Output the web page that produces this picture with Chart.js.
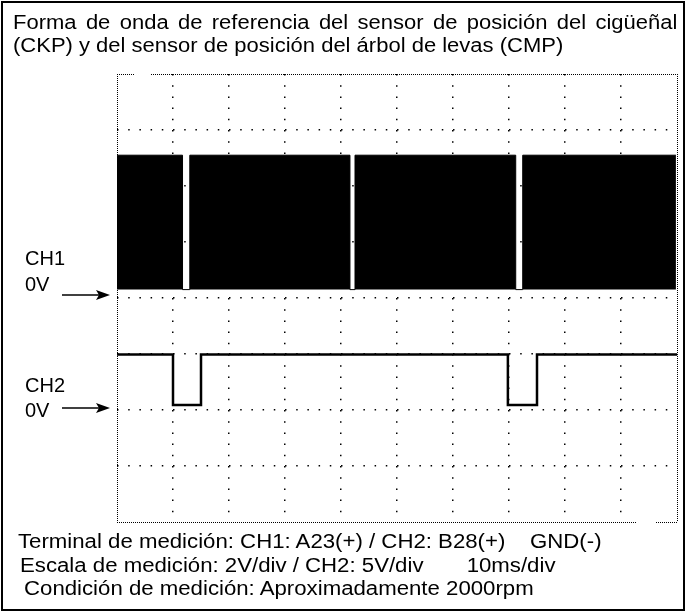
<!DOCTYPE html>
<html>
<head>
<meta charset="utf-8">
<script src="https://cdn.jsdelivr.net/npm/chart.js@4.4.0/dist/chart.umd.min.js"></script>
<style>
  html, body { margin: 0; padding: 0; background: #fff; }
  #wrap { position: relative; width: 687px; height: 613px; overflow: hidden; font-family: "Liberation Sans", Arial, sans-serif; color: #000; }
  #frame { position: absolute; left: 1px; top: 1px; width: 684px; height: 610px; border: 2px solid #000; box-sizing: border-box; }
  canvas { position: absolute; left: 0; top: 0; }
  .txt { position: absolute; white-space: nowrap; line-height: 20px; font-size: 20px; }
  .wide { transform: scaleX(1.1); transform-origin: 0 0; }
  .title1 { left: 13px; width: 604px; text-align: justify; text-align-last: justify; }
  .foot { transform: scaleX(1.11); transform-origin: 0 0; }
  svg.arrow { position: absolute; }
</style>
</head>
<body>
<div id="wrap">
  <canvas id="scope" width="687" height="613"></canvas>
  <div id="frame"></div>
  <div class="txt title1 wide" style="top:12px;">Forma de onda de referencia del sensor de posición del cigüeñal</div>
  <div class="txt wide" style="left:13px; top:35px;">(CKP) y del sensor de posición del árbol de levas (CMP)</div>

  <div class="txt" style="left:25px; top:248px;">CH1</div>
  <div class="txt" style="left:25px; top:274px;">0V</div>
  <svg class="arrow" style="left:62px; top:288px;" width="50" height="14"><line x1="0" y1="7" x2="40" y2="7" stroke="#000" stroke-width="1.5"/><polygon points="48,7 34,2 37,7 34,12" fill="#000"/></svg>

  <div class="txt" style="left:25px; top:375px;">CH2</div>
  <div class="txt" style="left:25px; top:400px;">0V</div>
  <svg class="arrow" style="left:62px; top:401px;" width="50" height="14"><line x1="0" y1="7" x2="40" y2="7" stroke="#000" stroke-width="1.5"/><polygon points="48,7 34,2 37,7 34,12" fill="#000"/></svg>

  <div class="txt foot" style="left:18px; top:531px;">Terminal de medición: CH1: A23(+) / CH2: B28(+)&nbsp;&nbsp;&nbsp;&nbsp;GND(-)</div>
  <div class="txt foot" style="left:20px; top:555px;">Escala de medición: 2V/div / CH2: 5V/div&nbsp;&nbsp;&nbsp;&nbsp;&nbsp;&nbsp;&nbsp;10ms/div</div>
  <div class="txt foot" style="left:24px; top:578px;">Condición de medición: Aproximadamente 2000rpm</div>
</div>
<script>
// Oscilloscope screen: 10 div x 10ms, CH1 2V/div (0V at 4th div), CH2 5V/div (0V at 2nd div)
const timeMin = 0, timeMax = 100, timeStep = 10;
const ch1Min = -8, ch1Max = 8, ch1Step = 2;
const ch2Min = -10, ch2Max = 30;

// CH1 (CKP) - tooth train merges to a solid band, missing-tooth gaps drop to low level
const ch1Time = [0, 11.7, 13.0, 41.6, 42.5, 71.2, 72.45, 99.8];
const ch1Volt = [5.1, 0.3, 5.1, 0.3, 5.1, 0.3, 5.1, 5.1];
const ch1Low = 0.3;

// CH2 (CMP)
const ch2Time = [0, 10.0, 15.0, 69.8, 75.0, 100];
const ch2Volt = [4.95, 0.45, 4.95, 0.45, 4.95, 4.95];

const toPoints = (xs, ys) => xs.map((x, i) => ({ x, y: ys[i] }));

// dense dotted frame, with the small breaks seen on the scope screen
function frameDash(gapFrom, gapTo) {
    const d = [];
    let pos = 0;
    while (pos < 600) {
        if (gapFrom !== undefined && pos >= gapFrom && pos < gapTo) {
            d.push(1, gapTo - gapFrom);
            pos += gapTo - gapFrom + 1;
        } else {
            d.push(1, 1);
            pos += 2;
        }
    }
    return d;
}
const dotDash = [1.5, 9.7];

function xDash(ctx) {
    if (!ctx.tick) return dotDash;
    const v = ctx.tick.value;
    return (v === timeMin || v === timeMax) ? frameDash() : dotDash;
}
function yDash(ctx) {
    if (!ctx.tick) return dotDash;
    const v = ctx.tick.value;
    if (v === ch1Max) return frameDash(16, 33);
    if (v === ch1Min) return frameDash(518, 538);
    return dotDash;
}
const gridWidth = ctx => (ctx.tick && (ctx.index === 0 || ctx.index === ctx.scale.ticks.length - 1)) ? 1 : 1.5;

new Chart(document.getElementById("scope"), {
    type: "line",
    data: {
        datasets: [
            {
                label: "CH1",
                data: toPoints(ch1Time, ch1Volt),
                yAxisID: "y",
                stepped: "before",
                borderColor: "#000",
                borderWidth: 1,
                backgroundColor: "#000",
                fill: { value: ch1Low },
                pointRadius: 0
            },
            {
                label: "CH2",
                data: toPoints(ch2Time, ch2Volt),
                yAxisID: "y2",
                stepped: "before",
                borderColor: "#000",
                borderWidth: 2.5,
                fill: false,
                pointRadius: 0
            }
        ]
    },
    options: {
        responsive: false,
        animation: false,
        events: [],
        layout: { padding: { left: 117, top: 74, right: 10, bottom: 91 } },
        plugins: { legend: { display: false }, tooltip: { enabled: false } },
        scales: {
            x: {
                type: "linear", min: timeMin, max: timeMax,
                ticks: { display: false, stepSize: timeStep },
                grid: { color: "#000", lineWidth: gridWidth, drawTicks: false },
                border: { display: false, dash: xDash }
            },
            y: {
                type: "linear", min: ch1Min, max: ch1Max,
                ticks: { display: false, stepSize: ch1Step },
                grid: { color: "#000", lineWidth: gridWidth, drawTicks: false },
                border: { display: false, dash: yDash }
            },
            y2: {
                type: "linear", min: ch2Min, max: ch2Max, display: false
            }
        }
    }
});
</script>
</body>
</html>
